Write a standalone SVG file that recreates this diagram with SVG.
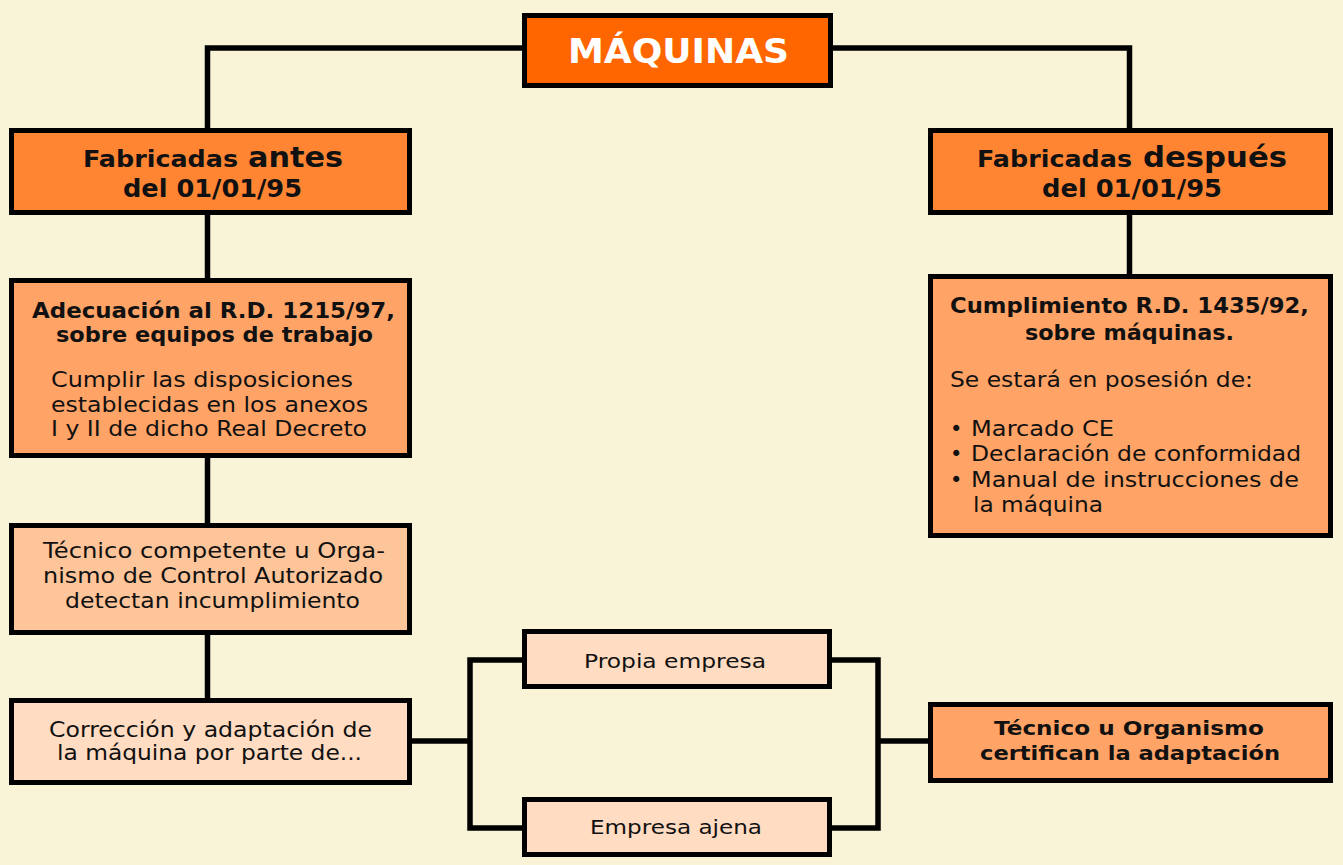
<svg xmlns="http://www.w3.org/2000/svg" width="1343" height="865" viewBox="0 0 1343 865">
<style>
.box{stroke:#000;stroke-width:5}
.c1{fill:#FF6600}
.c2{fill:#FF8533}
.c3{fill:#FFA366}
.c4{fill:#FFC59A}
.c5{fill:#FFDCC2}
.ln{fill:none;stroke:#000;stroke-width:5.5}
text{font-family:"DejaVu Sans","Liberation Sans",sans-serif;fill:#111}
.b{font-weight:bold}
.r{font-size:21px}
.sb{font-size:21px;font-weight:bold}
</style>
<rect width="1343" height="865" fill="#F9F4D7"/>
<g id="connectors">
<polyline class="ln" points="524,48 207.5,48 207.5,130"/>
<polyline class="ln" points="831,48 1129.5,48 1129.5,130"/>
<line class="ln" x1="207.5" y1="213" x2="207.5" y2="280"/>
<line class="ln" x1="207.5" y1="456" x2="207.5" y2="525"/>
<line class="ln" x1="207.5" y1="633" x2="207.5" y2="700"/>
<line class="ln" x1="1129.5" y1="213" x2="1129.5" y2="276"/>
<line class="ln" x1="410" y1="741" x2="470" y2="741"/>
<polyline class="ln" points="524,660 470,660 470,828 524,828"/>
<polyline class="ln" points="830,660 878,660 878,828 830,828"/>
<line class="ln" x1="878" y1="741" x2="930" y2="741"/>
</g>
<g id="maquinas">
<rect class="box c1" x="524.5" y="15.5" width="306" height="70"/>
<text x="568" y="63" class="b" font-size="34" style="fill:#fff" textLength="221" lengthAdjust="spacingAndGlyphs">MÁQUINAS</text>
</g>
<g id="antes">
<rect class="box c2" x="11.5" y="130.5" width="398" height="82"/>
<text x="83" y="167" class="b" font-size="23" textLength="155" lengthAdjust="spacingAndGlyphs">Fabricadas</text>
<text x="248" y="167" class="b" font-size="29" textLength="95" lengthAdjust="spacingAndGlyphs">antes</text>
<text x="123" y="197" class="b" font-size="24" textLength="179" lengthAdjust="spacingAndGlyphs">del 01/01/95</text>
</g>
<g id="despues">
<rect class="box c2" x="930.5" y="130.5" width="400" height="82"/>
<text x="977" y="167" class="b" font-size="23" textLength="155" lengthAdjust="spacingAndGlyphs">Fabricadas</text>
<text x="1143" y="167" class="b" font-size="29" textLength="144" lengthAdjust="spacingAndGlyphs">después</text>
<text x="1042" y="197" class="b" font-size="24" textLength="180" lengthAdjust="spacingAndGlyphs">del 01/01/95</text>
</g>
<g id="adecuacion">
<rect class="box c3" x="11.5" y="280.5" width="398" height="175"/>
<text x="32" y="318" class="sb" textLength="363" lengthAdjust="spacingAndGlyphs">Adecuación al R.D. 1215/97,</text>
<text x="56" y="342" class="sb" textLength="317" lengthAdjust="spacingAndGlyphs">sobre equipos de trabajo</text>
<text x="51" y="387" class="r" textLength="302" lengthAdjust="spacingAndGlyphs">Cumplir las disposiciones</text>
<text x="51" y="412" class="r" textLength="317" lengthAdjust="spacingAndGlyphs">establecidas en los anexos</text>
<text x="51" y="436" class="r" textLength="316" lengthAdjust="spacingAndGlyphs">I y II de dicho Real Decreto</text>
</g>
<g id="cumplimiento">
<rect class="box c3" x="930.5" y="276.5" width="400" height="259"/>
<text x="950" y="313" class="sb" textLength="359" lengthAdjust="spacingAndGlyphs">Cumplimiento R.D. 1435/92,</text>
<text x="1025" y="340" class="sb" textLength="209" lengthAdjust="spacingAndGlyphs">sobre máquinas.</text>
<text x="950" y="387" class="r" textLength="303" lengthAdjust="spacingAndGlyphs">Se estará en posesión de:</text>
<text x="950" y="436" class="r">•</text>
<text x="971" y="436" class="r" textLength="143" lengthAdjust="spacingAndGlyphs">Marcado CE</text>
<text x="950" y="461" class="r">•</text>
<text x="971" y="461" class="r" textLength="330" lengthAdjust="spacingAndGlyphs">Declaración de conformidad</text>
<text x="950" y="487" class="r">•</text>
<text x="971" y="487" class="r" textLength="328" lengthAdjust="spacingAndGlyphs">Manual de instrucciones de</text>
<text x="973" y="512" class="r" textLength="130" lengthAdjust="spacingAndGlyphs">la máquina</text>
</g>
<g id="tecnico-competente">
<rect class="box c4" x="11.5" y="525.5" width="398" height="107"/>
<text x="43" y="558" class="r" textLength="342" lengthAdjust="spacingAndGlyphs">Técnico competente u Orga-</text>
<text x="43" y="583" class="r" textLength="340" lengthAdjust="spacingAndGlyphs">nismo de Control Autorizado</text>
<text x="65" y="608" class="r" textLength="295" lengthAdjust="spacingAndGlyphs">detectan incumplimiento</text>
</g>
<g id="correccion">
<rect class="box c5" x="11.5" y="700.5" width="398" height="82"/>
<text x="49" y="737" class="r" textLength="323" lengthAdjust="spacingAndGlyphs">Corrección y adaptación de</text>
<text x="57" y="760" class="r" textLength="305" lengthAdjust="spacingAndGlyphs">la máquina por parte de...</text>
</g>
<g id="propia">
<rect class="box c5" x="524.5" y="631.5" width="305" height="55"/>
<text x="584" y="668" font-size="19" textLength="182" lengthAdjust="spacingAndGlyphs">Propia empresa</text>
</g>
<g id="ajena">
<rect class="box c5" x="524.5" y="799.5" width="305" height="55"/>
<text x="590" y="834" font-size="19" textLength="172" lengthAdjust="spacingAndGlyphs">Empresa ajena</text>
</g>
<g id="certifican">
<rect class="box c3" x="930.5" y="704.5" width="400" height="76"/>
<text x="994" y="735" class="b" font-size="20" textLength="270" lengthAdjust="spacingAndGlyphs">Técnico u Organismo</text>
<text x="980" y="760" class="b" font-size="20" textLength="300" lengthAdjust="spacingAndGlyphs">certifican la adaptación</text>
</g>
</svg>
